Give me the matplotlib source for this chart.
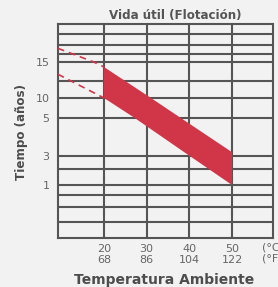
import numpy as np
import matplotlib
matplotlib.use("Agg")
import matplotlib.pyplot as plt

# ---- data ----
title = "Vida útil (Flotación)"
xlabel = "Temperatura Ambiente"
ylabel = "Tiempo (años)"
temp_c = [20, 30, 40, 50]
temp_f = [68, 86, 104, 122]
year_ticks = [1, 3, 5, 10, 15]

# band (years vs °C)
upper_t = [20, 31, 38, 50]
upper_y = [14.3, 10, 5, 3.2]
lower_t = [20, 27.2, 40.1, 50]
lower_y = [10, 5, 3, 1]
# dashed extrapolations
dash_up_t = [9.2, 17.6, 20]
dash_up_y = [16.8, 15, 14.3]
dash_lo_t = [9.2, 20]
dash_lo_y = [13.3, 10]

# ---- irregular vertical scale of the original drawing ----
knot_years = [0, 1, 3, 5, 10, 15, 20]
knot_pos = [0, 53, 82, 120, 140, 176, 214]
fwd = lambda y: np.interp(y, knot_years, knot_pos)
inv = lambda p: np.interp(p, knot_pos, knot_years)
grid_pos = [204, 193, 184, 157, 69, 43, 31, 16]

BG = "#f2f2f2"
GRID = "#555555"
RED = "#d13648"
TXT = "#555555"

fig = plt.figure(figsize=(2.78, 2.87), dpi=100, facecolor=BG)
ax = fig.add_axes([58/278, 49/287, 215/278, 214/287], facecolor=BG)
ax.set_yscale("function", functions=(fwd, inv))
ax.set_xlim(9.22, 59.6)
ax.set_ylim(0, 20)

ax.set_xticks(temp_c, [f"{c}\n{f}" for c, f in zip(temp_c, temp_f)])
ax.set_yticks(year_ticks, [str(v) for v in year_ticks])
ax.set_yticks(inv(np.array(grid_pos)), minor=True)
ax.grid(which="both", color=GRID, linewidth=1.5)
ax.set_axisbelow(True)
for s in ax.spines.values():
    s.set_color(GRID)
    s.set_linewidth(1.5)
ax.tick_params(which="both", length=0)
ax.tick_params(axis="y", pad=6, labelsize=8, labelcolor="#666666")
ax.tick_params(axis="x", pad=4, labelsize=8, labelcolor="#666666")
for lab in ax.get_xticklabels():
    lab.set_linespacing(1.15)

poly_t = upper_t + lower_t[::-1]
poly_y = upper_y + lower_y[::-1]
ax.fill(poly_t, poly_y, color=RED, lw=0, zorder=3)
ax.plot(dash_up_t, dash_up_y, color=RED, lw=1.2, ls=(0, (4, 3)), zorder=3)
ax.plot(dash_lo_t, dash_lo_y, color=RED, lw=1.2, ls=(0, (4, 3)), zorder=3)

fig.text(175/278, 1 - 15/287, title, ha="center", va="center",
         fontsize=8.6, fontweight="bold", color=TXT)
fig.text(164/278, 1 - 280/287, xlabel, ha="center", va="center",
         fontsize=10, fontweight="bold", color="#4d4d4d")
fig.text(22/278, 1 - 132/287, ylabel, ha="center", va="center", rotation=90,
         fontsize=8.6, fontweight="bold", color="#4d4d4d")
fig.text(262/278, 1 - 242/287, "(°C)\n(°F)", ha="left", va="top",
         fontsize=8, color="#666666", linespacing=1.15)

fig.savefig("out.png", dpi=100, facecolor=BG)
